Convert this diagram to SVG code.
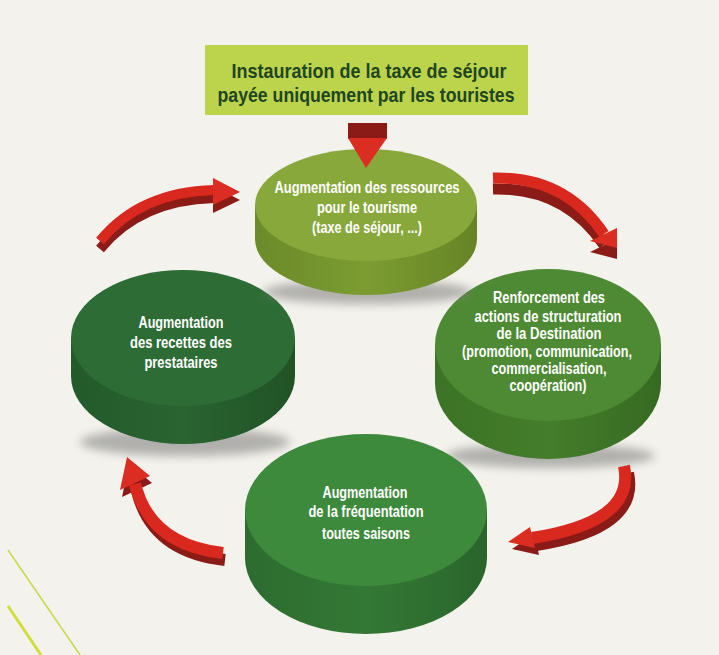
<svg xmlns="http://www.w3.org/2000/svg" width="719" height="655" viewBox="0 0 719 655">
<style>
.lbl{font-family:"Liberation Sans",Arial,sans-serif;font-weight:bold;font-size:16px;fill:#ffffff;text-anchor:middle}
.ttl{font-family:"Liberation Sans",Arial,sans-serif;font-weight:bold;font-size:21px;fill:#1f4620;text-anchor:middle}
.bodyB{fill:none;stroke:#d9291f;stroke-linecap:butt}
.bodyD{fill:none;stroke:#8a1b16;stroke-linecap:butt}
.headB{fill:#dc2d22}
.headD{fill:#8a1b16}
.shadow{fill:#7a7a7a;opacity:.55}
</style>
<defs>
<filter id="blur" x="-30%" y="-100%" width="160%" height="300%"><feGaussianBlur stdDeviation="5"/></filter>
<linearGradient id="sideTop" x1="0" y1="0" x2="1" y2="0"><stop offset="0" stop-color="#6b8a2a"/><stop offset=".5" stop-color="#7c9c32"/><stop offset="1" stop-color="#668426"/></linearGradient>
<linearGradient id="sideLeft" x1="0" y1="0" x2="1" y2="0"><stop offset="0" stop-color="#245a2b"/><stop offset=".5" stop-color="#2a6431"/><stop offset="1" stop-color="#215227"/></linearGradient>
<linearGradient id="sideRight" x1="0" y1="0" x2="1" y2="0"><stop offset="0" stop-color="#3c7326"/><stop offset=".5" stop-color="#447d2b"/><stop offset="1" stop-color="#366a22"/></linearGradient>
<linearGradient id="sideBottom" x1="0" y1="0" x2="1" y2="0"><stop offset="0" stop-color="#2d6c2f"/><stop offset=".5" stop-color="#347835"/><stop offset="1" stop-color="#2a652c"/></linearGradient>
</defs>
<rect x="0" y="0" width="719" height="655" fill="#f3f2ec"/>
<line x1="8" y1="550" x2="80" y2="655" stroke="#c8d84a" stroke-width="1.5"/>
<line x1="8" y1="606" x2="41" y2="655" stroke="#d0df3a" stroke-width="3"/>

<g id="node-title">
<rect x="205" y="45" width="323" height="70" fill="#bcd34c"/>
<text class="ttl" x="369" y="78" textLength="275" lengthAdjust="spacingAndGlyphs">Instauration de la taxe de séjour</text>
<text class="ttl" x="366" y="102" textLength="297" lengthAdjust="spacingAndGlyphs">payée uniquement par les touristes</text>
</g>

<g id="node-left">
<ellipse class="shadow" cx="185" cy="442" rx="105" ry="14" filter="url(#blur)"/>
<path d="M71,338 L71,376 A112,68 0 0 0 295,376 L295,338 Z" fill="url(#sideLeft)"/>
<ellipse cx="183" cy="338" rx="112" ry="68" fill="#2e6c35"/>
<text class="lbl" x="181" y="328" textLength="85" lengthAdjust="spacingAndGlyphs">Augmentation</text>
<text class="lbl" x="181" y="348" textLength="102" lengthAdjust="spacingAndGlyphs">des recettes des</text>
<text class="lbl" x="181" y="368" textLength="73" lengthAdjust="spacingAndGlyphs">prestataires</text>
</g>

<g id="node-right">
<ellipse class="shadow" cx="550" cy="456" rx="105" ry="12" filter="url(#blur)"/>
<path d="M435,345 L435,383 A113,76 0 0 0 661,383 L661,345 Z" fill="url(#sideRight)"/>
<ellipse cx="548" cy="345" rx="113" ry="76" fill="#4d8a33"/>
<text class="lbl" x="549" y="303" textLength="112" lengthAdjust="spacingAndGlyphs">Renforcement des</text>
<text class="lbl" x="548" y="322" textLength="147" lengthAdjust="spacingAndGlyphs">actions de structuration</text>
<text class="lbl" x="549" y="339" textLength="105" lengthAdjust="spacingAndGlyphs">de la Destination</text>
<text class="lbl" x="547" y="357" textLength="170" lengthAdjust="spacingAndGlyphs">(promotion, communication,</text>
<text class="lbl" x="549" y="374" textLength="115" lengthAdjust="spacingAndGlyphs">commercialisation,</text>
<text class="lbl" x="548" y="391" textLength="77" lengthAdjust="spacingAndGlyphs">coopération)</text>
</g>

<g id="node-top">
<ellipse class="shadow" cx="368" cy="292" rx="105" ry="12" filter="url(#blur)"/>
<path d="M255,205 L255,239 A111,56 0 0 0 477,239 L477,205 Z" fill="url(#sideTop)"/>
<ellipse cx="366" cy="205" rx="111" ry="56" fill="#89a83b"/>
<text class="lbl" x="367" y="193" textLength="185" lengthAdjust="spacingAndGlyphs">Augmentation des ressources</text>
<text class="lbl" x="367" y="213" textLength="100" lengthAdjust="spacingAndGlyphs">pour le tourisme</text>
<text class="lbl" x="367" y="233" textLength="110" lengthAdjust="spacingAndGlyphs">(taxe de séjour, ...)</text>
</g>

<g id="node-bottom">
<path d="M245,510 L245,558 A121,76 0 0 0 487,558 L487,510 Z" fill="url(#sideBottom)"/>
<ellipse cx="366" cy="510" rx="121" ry="76" fill="#3d8a3d"/>
<text class="lbl" x="365" y="498" textLength="85" lengthAdjust="spacingAndGlyphs">Augmentation</text>
<text class="lbl" x="366" y="517" textLength="115" lengthAdjust="spacingAndGlyphs">de la fréquentation</text>
<text class="lbl" x="366" y="539" textLength="88" lengthAdjust="spacingAndGlyphs">toutes saisons</text>
</g>

<g id="connectors">
<g id="arrow-title-top">
<rect x="348" y="123" width="39" height="16" fill="#8a1b16"/>
<polygon class="headB" points="348,138 387,138 366,168"/>
</g>
<g id="arrow-left-top">
<g transform="translate(0,8)">
<path class="bodyD" d="M100,241 Q140,192 214,190" stroke-width="10"/>
<polygon class="headD" points="213,178 240,192 213,205"/>
</g>
<path class="bodyB" d="M100,241 Q140,192 214,190" stroke-width="10"/>
<polygon class="headB" points="213,178 240,192 213,205"/>
</g>
<g id="arrow-top-right">
<g transform="translate(0,11)">
<path class="bodyD" d="M493,178 Q565,176 604,234" stroke-width="11"/>
<polygon class="headD" points="590,241 617,228 617,248"/>
</g>
<path class="bodyB" d="M493,178 Q565,176 604,234" stroke-width="11"/>
<polygon class="headB" points="590,241 617,228 617,248"/>
</g>
<g id="arrow-right-bottom">
<g transform="translate(4,7)">
<path class="bodyD" d="M624,466 Q636,522 532,538" stroke-width="12"/>
<polygon class="headD" points="508,542 530,527 535,548"/>
</g>
<path class="bodyB" d="M624,466 Q636,522 532,538" stroke-width="12"/>
<polygon class="headB" points="508,542 530,527 535,548"/>
</g>
<g id="arrow-bottom-left">
<g transform="translate(2,7)">
<path class="bodyD" d="M135,484 Q150,545 223,553" stroke-width="12"/>
<polygon class="headD" points="127,457 120,490 150,476"/>
</g>
<path class="bodyB" d="M135,484 Q150,545 223,553" stroke-width="12"/>
<polygon class="headB" points="127,457 120,490 150,476"/>
</g>
</g>
</svg>
